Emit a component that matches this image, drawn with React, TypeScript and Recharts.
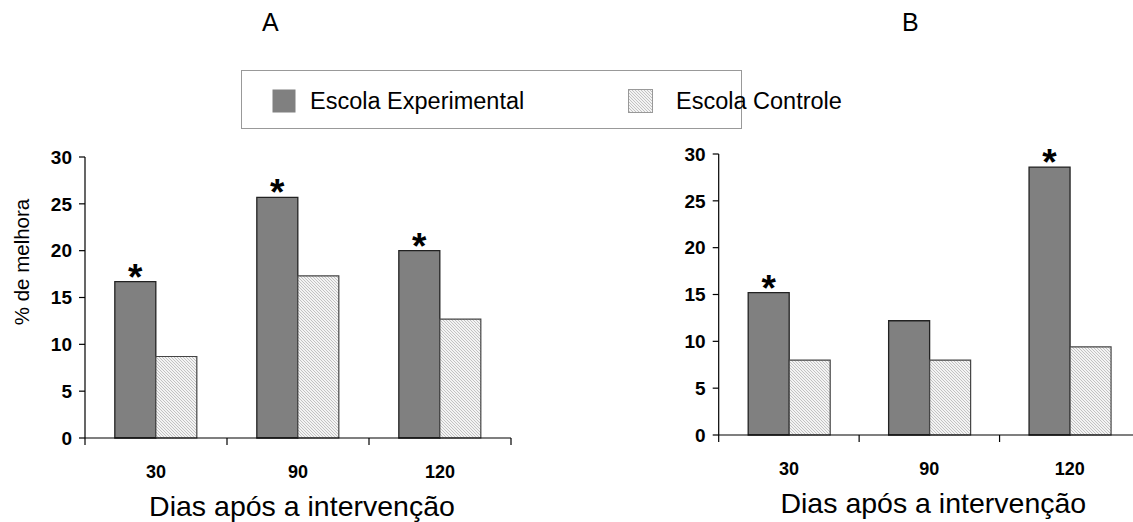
import { BarChart, Bar, XAxis, YAxis, Legend, LabelList } from "recharts";

const FONT = '"Liberation Sans", Arial, Helvetica, sans-serif';

const days = ["30", "90", "120"];
const experimentalA = [16.7, 25.7, 20.0];
const controlA = [8.7, 17.3, 12.7];
const significantA = [true, true, true];
const experimentalB = [15.2, 12.2, 28.6];
const controlB = [8.0, 8.0, 9.4];
const significantB = [true, false, true];
const yTicks = [0, 5, 10, 15, 20, 25, 30];
const legendOrder = ["experimental", "control"];

function buildRows(exp: number[], ctrl: number[], sig: boolean[]) {
  return days.map((d, i) => ({ day: d, experimental: exp[i], control: ctrl[i], sig: sig[i] }));
}

function DayTick(props: any) {
  const { x, y, payload, index, band, count } = props;
  const top = y - 7;
  return (
    <g>
      <line x1={x - band / 2} x2={x - band / 2} y1={top} y2={top + 7} stroke="#000" strokeWidth={1.2} />
      {index === count - 1 && (
        <line x1={x + band / 2} x2={x + band / 2} y1={top} y2={top + 7} stroke="#000" strokeWidth={1.2} />
      )}
      <text x={x} y={top + 40} textAnchor="middle" fontSize={18} fontWeight="bold" fill="#000" fontFamily={FONT}>
        {payload.value}
      </text>
    </g>
  );
}

function LegendBox({ payload }: any) {
  const lefts = [30, 386];
  const items = legendOrder
    .map((k) => (payload || []).find((e: any) => e.dataKey === k))
    .filter(Boolean);
  return (
    <div
      style={{
        width: 501,
        height: 59,
        boxSizing: "border-box",
        border: "1.5px solid #999",
        position: "relative",
        fontFamily: FONT,
        fontSize: 23.5,
        color: "#000",
      }}
    >
      {items.map((entry: any, i: number) => (
        <div
          key={entry.value}
          style={{ position: "absolute", left: lefts[i], top: 18, height: 24, display: "flex", alignItems: "center" }}
        >
          <svg width={25} height={24} style={{ marginRight: i === 0 ? 13 : 23 }}>
            <rect
              x={0.5}
              y={0.5}
              width={i === 0 ? 23 : 24}
              height={23}
              fill={entry.color}
              stroke={i === 0 ? "none" : "#999"}
            />
          </svg>
          <span style={{ whiteSpace: "nowrap" }}>{entry.value}</span>
        </div>
      ))}
    </div>
  );
}

interface PanelProps {
  rows: ReturnType<typeof buildRows>;
  id: string;
  width: number;
  margin: { top: number; right: number; bottom: number; left: number };
  showYTitle?: boolean;
  showLegend?: boolean;
}

function Panel({ rows, id, width, margin, showYTitle, showLegend }: PanelProps) {
  const yWidth = 50;
  const band = (width - margin.left - margin.right - yWidth) / days.length;
  const hatch = `hatch${id}`;
  return (
    <BarChart width={width} height={522} data={rows} margin={margin} barCategoryGap="21%" barGap={0}>
      <defs>
        <pattern id={hatch} width={3} height={3} patternUnits="userSpaceOnUse">
          <rect width={3} height={3} fill="#f3f3f3" />
          <rect x={0} y={0} width={1} height={1} fill="#c2c2c2" />
          <rect x={1} y={1} width={1} height={1} fill="#c2c2c2" />
          <rect x={2} y={2} width={1} height={1} fill="#c2c2c2" />
        </pattern>
      </defs>
      <XAxis
        dataKey="day"
        height={84}
        axisLine={{ stroke: "#000", strokeWidth: 1.2 }}
        tickLine={false}
        tickSize={7}
        tickMargin={0}
        interval={0}
        tick={<DayTick band={band} count={days.length} />}
        label={(p: any) => {
          const vb = p.viewBox;
          return (
            <text
              x={vb.x + vb.width / 2 + 4}
              y={vb.y + 78}
              textAnchor="middle"
              fontSize={28.5}
              fill="#000"
              fontFamily={FONT}
            >
              Dias após a intervenção
            </text>
          );
        }}
      />
      <YAxis
        width={yWidth}
        domain={[0, 30]}
        ticks={yTicks}
        interval={0}
        axisLine={{ stroke: "#000", strokeWidth: 1.2 }}
        tickLine={{ stroke: "#000", strokeWidth: 1.2 }}
        tickSize={6}
        tickMargin={7}
        tick={{ fill: "#000", fontSize: 19, fontWeight: "bold", fontFamily: FONT }}
        label={
          showYTitle
            ? () => (
                <text
                  x={21}
                  y={262}
                  transform="rotate(-90 21 262)"
                  textAnchor="middle"
                  dominantBaseline="central"
                  fontSize={20.5}
                  fill="#000"
                  fontFamily={FONT}
                >
                  % de melhora
                </text>
              )
            : undefined
        }
      />
      {showLegend && (
        <Legend
          layout="horizontal"
          verticalAlign="middle"
          align="center"
          content={<LegendBox />}
          wrapperStyle={{ left: 241, top: 70, width: 501, height: 59 }}
        />
      )}
      <Bar
        dataKey="experimental"
        name="Escola Experimental"
        fill="#808080"
        stroke="#222"
        strokeWidth={1.3}
        isAnimationActive={false}
      >
        <LabelList
          dataKey="experimental"
          content={(p: any) => {
            if (!rows[p.index] || !rows[p.index].sig) return null;
            return (
              <text
                x={p.x + p.width / 2}
                y={p.y + 8}
                textAnchor="middle"
                fontSize={37}
                fontWeight="bold"
                fill="#000"
                fontFamily={FONT}
              >
                *
              </text>
            );
          }}
        />
      </Bar>
      <Bar
        dataKey="control"
        name="Escola Controle"
        fill={`url(#${hatch})`}
        stroke="#444"
        strokeWidth={1.2}
        isAnimationActive={false}
      />
    </BarChart>
  );
}

export default function App() {
  const rowsA = buildRows(experimentalA, controlA, significantA);
  const rowsB = buildRows(experimentalB, controlB, significantB);
  return (
    <div
      style={{
        position: "absolute",
        left: 0,
        top: 0,
        width: 1133,
        height: 522,
        overflow: "hidden",
        background: "#fff",
        fontFamily: FONT,
      }}
    >
      <div style={{ position: "absolute", left: 262, top: 8, fontSize: 25, lineHeight: "28px" }}>A</div>
      <div style={{ position: "absolute", left: 902, top: 8, fontSize: 25, lineHeight: "28px" }}>B</div>
      <div style={{ position: "absolute", left: 560, top: 0 }}>
        <Panel rows={rowsB} id="B" width={600} margin={{ top: 154, right: 20, bottom: 3, left: 108.7 }} />
      </div>
      <div style={{ position: "absolute", left: 0, top: 0 }}>
        <Panel
          rows={rowsA}
          id="A"
          width={560}
          margin={{ top: 157, right: 49, bottom: 0, left: 35 }}
          showYTitle
          showLegend
        />
      </div>
    </div>
  );
}
